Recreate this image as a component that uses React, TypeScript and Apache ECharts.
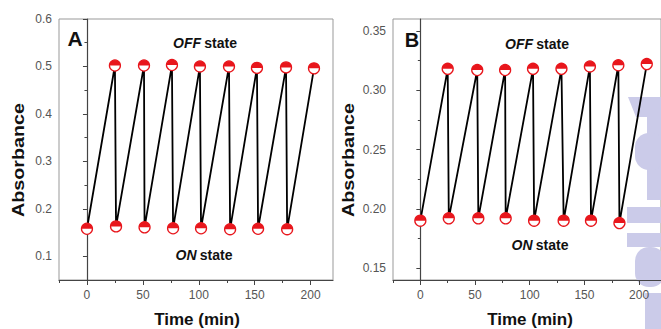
import React, { useEffect, useRef } from "react";
import * as echarts from "echarts";

// Panel A data
const timeOnA = [0, 26, 51.5, 77, 102, 128, 153, 179];
const absOnA = [0.158, 0.163, 0.161, 0.159, 0.159, 0.157, 0.158, 0.157];
const timeOffA = [25, 51, 76, 101, 127, 152, 178, 203];
const absOffA = [0.502, 0.502, 0.503, 0.5, 0.5, 0.497, 0.498, 0.496];

// Panel B data
const timeOnB = [0, 26, 53, 78, 104, 131, 156, 182];
const absOnB = [0.19, 0.192, 0.192, 0.192, 0.19, 0.19, 0.19, 0.188];
const timeOffB = [25, 52, 77.5, 103, 129, 155, 181, 207];
const absOffB = [0.318, 0.317, 0.317, 0.318, 0.318, 0.32, 0.321, 0.322];

// Axis ticks
const xMajor = [0, 50, 100, 150, 200];
const xMinor = [-25, 25, 75, 125, 175];
const yMajorA = [0.1, 0.2, 0.3, 0.4, 0.5, 0.6];
const yMinorA = [0.05, 0.15, 0.25, 0.35, 0.45, 0.55];
const yMajorB = [0.15, 0.2, 0.25, 0.3, 0.35];
const yMinorB = [0.175, 0.225, 0.275, 0.325];

const FONT = 'Arial, "Liberation Sans", Helvetica, sans-serif';
const RED = "#e8161c";
const AXIS = "#444";

function interleave(tOn: number[], on: number[], tOff: number[], off: number[]) {
  const out: number[][] = [];
  for (let i = 0; i < tOn.length; i++) {
    out.push([tOn[i], on[i]]);
    out.push([tOff[i], off[i]]);
  }
  return out;
}
function pts(t: number[], v: number[]) {
  return t.map((x, i) => [x, v[i]]);
}

function xAxes(grid: number) {
  return [
    {
      gridIndex: grid,
      type: "value",
      min: -25,
      max: 220,
      position: "bottom",
      axisLine: { show: true, lineStyle: { color: AXIS, width: 1.2 } },
      axisTick: { show: true, inside: false, length: 5, customValues: xMajor, lineStyle: { color: AXIS } },
      axisLabel: {
        customValues: xMajor,
        margin: 9,
        fontSize: 12,
        color: "#555",
        fontFamily: FONT,
        formatter: (v: number) => String(Math.round(v)),
      },
      splitLine: { show: false },
    },
    {
      gridIndex: grid,
      type: "value",
      min: -25,
      max: 220,
      position: "bottom",
      axisLine: { show: false },
      axisTick: { show: true, inside: false, length: 3, customValues: xMinor, lineStyle: { color: AXIS } },
      axisLabel: { show: false },
      splitLine: { show: false },
    },
  ];
}

function yAxes(grid: number, min: number, max: number, major: number[], minor: number[], dec: number) {
  return [
    {
      gridIndex: grid,
      type: "value",
      min,
      max,
      position: "left",
      axisLine: { show: true, lineStyle: { color: AXIS, width: 1.2 } },
      axisTick: { show: true, inside: false, length: 4, customValues: major, lineStyle: { color: AXIS } },
      axisLabel: {
        customValues: major,
        margin: 7,
        fontSize: 12,
        color: "#555",
        fontFamily: FONT,
        formatter: (v: number) => v.toFixed(dec),
      },
      splitLine: { show: false },
    },
    {
      gridIndex: grid,
      type: "value",
      min,
      max,
      position: "left",
      axisLine: { show: false },
      axisTick: { show: true, inside: false, length: 2.5, customValues: minor, lineStyle: { color: AXIS } },
      axisLabel: { show: false },
      splitLine: { show: false },
    },
  ];
}

function seriesFor(xi: number, yi: number, tOn: number[], on: number[], tOff: number[], off: number[]) {
  const all = pts(tOn, on).concat(pts(tOff, off));
  return [
    {
      type: "line",
      xAxisIndex: xi,
      yAxisIndex: yi,
      data: interleave(tOn, on, tOff, off),
      showSymbol: false,
      lineStyle: { color: "#000", width: 1.8 },
      z: 2,
    },
    {
      type: "scatter",
      xAxisIndex: xi,
      yAxisIndex: yi,
      data: all,
      symbol: "circle",
      symbolSize: 11,
      itemStyle: { color: "#fff", borderColor: RED, borderWidth: 1.3, opacity: 1 },
      z: 3,
    },
    {
      type: "scatter",
      xAxisIndex: xi,
      yAxisIndex: yi,
      data: all,
      symbol: "path://M0,10A10,10,0,0,1,20,10Z",
      symbolSize: [11, 5.5],
      symbolOffset: [0, -2.75],
      itemStyle: { color: RED, opacity: 1 },
      z: 4,
    },
  ];
}

function stateText(x: number, y: number, word: string) {
  return {
    type: "text",
    x,
    y,
    z: 10,
    style: {
      text: `{i|${word}} {n|state}`,
      rich: {
        i: { fontStyle: "italic", fontWeight: "bold", fontSize: 14, fontFamily: FONT, fill: "#111", color: "#111" },
        n: { fontWeight: "bold", fontSize: 14, fontFamily: FONT, fill: "#111", color: "#111" },
      },
      textAlign: "center",
      align: "center",
      textVerticalAlign: "middle",
      verticalAlign: "middle",
    },
  };
}

function plainText(x: number, y: number, text: string, size: number, rotation = 0, scaleX = 1) {
  return {
    type: "text",
    x,
    y,
    rotation,
    scaleX,
    z: 10,
    style: {
      text,
      fontSize: size,
      fontWeight: "bold",
      fontFamily: FONT,
      fill: "#111",
      textAlign: "center",
      align: "center",
      textVerticalAlign: "middle",
      verticalAlign: "middle",
    },
  };
}

const WM = "#cbcbe9";
function wmRect(x: number, y: number, w: number, h: number, r = 0) {
  return { type: "rect", z: 0, shape: { x, y, width: w, height: h, r }, style: { fill: WM } };
}

export default function App() {
  const ref = useRef<HTMLDivElement>(null);
  useEffect(() => {
    const chart = echarts.init(ref.current!, undefined, { renderer: "svg" });
    chart.setOption({
      animation: false,
      backgroundColor: "#fff",
      grid: [
        { left: 59, top: 19, width: 274, height: 261, show: true, borderColor: "#999", borderWidth: 1, backgroundColor: "transparent" },
        { left: 393, top: 19, width: 272, height: 261, show: true, borderColor: "#999", borderWidth: 1, backgroundColor: "transparent" },
      ],
      xAxis: [...xAxes(0), ...xAxes(1)],
      yAxis: [
        ...yAxes(0, 0.05, 0.6, yMajorA, yMinorA, 1),
        ...yAxes(1, 0.14, 0.36, yMajorB, yMinorB, 2),
      ],
      series: [
        ...seriesFor(0, 0, timeOnA, absOnA, timeOffA, absOffA),
        ...seriesFor(2, 2, timeOnB, absOnB, timeOffB, absOffB),
      ],
      graphic: [
        { type: "polygon", z: 0, shape: { points: [[628, 97], [661, 97], [661, 117], [636, 117]] }, style: { fill: WM } },
        wmRect(647, 110, 14, 90),
        wmRect(635, 133, 30, 37, 14),
        wmRect(627, 207, 34, 16),
        wmRect(627, 233, 34, 14),
        wmRect(635, 247, 30, 40, 14),
        wmRect(645, 293, 16, 36),
        plainText(75, 38, "A", 21),
        plainText(412, 40, "B", 20),
        stateText(205, 43, "OFF"),
        stateText(204, 255, "ON"),
        stateText(537, 44, "OFF"),
        stateText(540, 245, "ON"),
        plainText(18, 160, "Absorbance", 17, Math.PI / 2, 1.16),
        plainText(348, 160, "Absorbance", 17, Math.PI / 2, 1.16),
        plainText(197, 319, "Time (min)", 17),
        plainText(530, 319, "Time (min)", 17),
      ],
    });
    return () => chart.dispose();
  }, []);
  return (
    <div
      ref={ref}
      style={{ position: "fixed", left: 0, top: 0, width: 661, height: 329 }}
    />
  );
}
